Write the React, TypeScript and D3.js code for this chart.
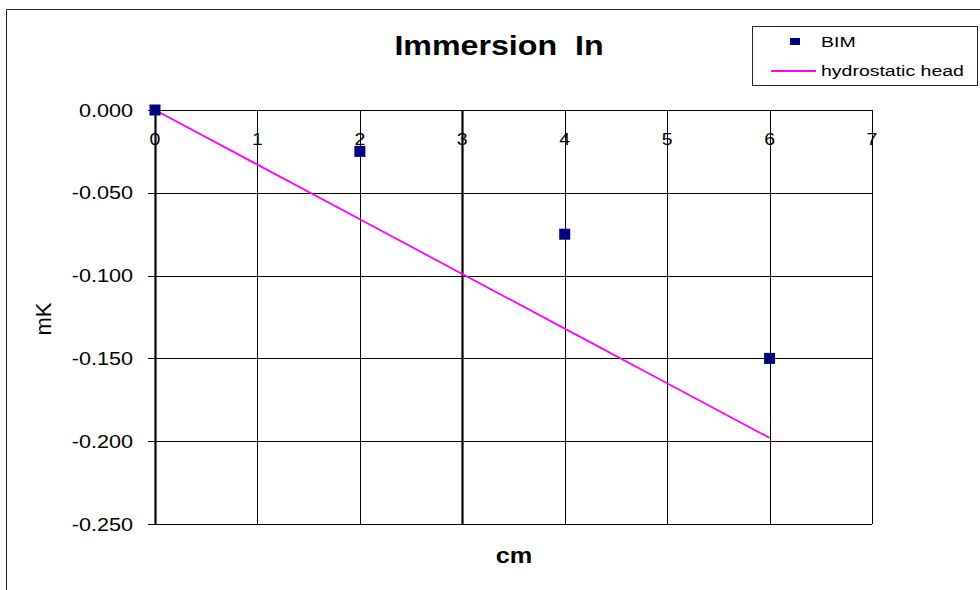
import React, { useEffect, useRef } from "react";
import * as d3 from "d3";

// chart data
const bimX = [0, 2, 4, 6];
const bimY = [0.0, -0.025, -0.075, -0.15];
const headX = [0, 1, 2, 3, 4, 5, 6];
const headY = [0, -0.033, -0.066, -0.099, -0.132, -0.165, -0.198];
const xTicks = [0, 1, 2, 3, 4, 5, 6, 7];
const yTicks = [0, -0.05, -0.1, -0.15, -0.2, -0.25];

const FONT = "Arial, 'Liberation Sans', sans-serif";

const App = () => {
  const ref = useRef<SVGSVGElement>(null);

  useEffect(() => {
    const svg = d3.select(ref.current);
    svg.selectAll("*").remove();

    const width = 980;
    const height = 590;
    const left = 155;
    const right = 872;
    const top = 110;
    const bottom = 524;

    const x = d3.scaleLinear().domain([0, 7]).range([left, right]);
    const y = d3.scaleLinear().domain([0, -0.25]).range([top, bottom]);

    // text in the source is a bit wider than plain Arial, so stretch it
    const stretch = (tx: number, ty: number, sx: number) =>
      `translate(${tx},${ty}) scale(${sx},1)`;

    svg.append("rect").attr("width", width).attr("height", height).attr("fill", "#fff");

    // outer chart frame (cropped on the right and bottom)
    svg
      .append("path")
      .attr("d", `M6.5,${height} V9.5 H${width}`)
      .attr("fill", "none")
      .attr("stroke", "#222")
      .attr("stroke-width", 1);

    // title
    svg
      .append("text")
      .attr("transform", stretch(499, 55, 1.15))
      .attr("text-anchor", "middle")
      .style("font-family", FONT)
      .style("font-size", "28px")
      .style("font-weight", "bold")
      .style("white-space", "pre")
      .text("Immersion  In");

    const grid = svg.append("g");

    // horizontal gridlines
    grid
      .selectAll("line.h")
      .data(yTicks)
      .enter()
      .append("line")
      .attr("class", "h")
      .attr("x1", left - 7)
      .attr("x2", right)
      .attr("y1", (d) => Math.round(y(d)) + 0.5)
      .attr("y2", (d) => Math.round(y(d)) + 0.5)
      .attr("stroke", "#000")
      .attr("stroke-width", 1.2);

    // vertical gridlines
    grid
      .selectAll("line.v")
      .data(xTicks)
      .enter()
      .append("line")
      .attr("class", "v")
      .attr("x1", (d) => Math.round(x(d)) + 0.5)
      .attr("x2", (d) => Math.round(x(d)) + 0.5)
      .attr("y1", top)
      .attr("y2", bottom)
      .attr("stroke", "#000")
      .attr("stroke-width", (d) => (d === 0 || d === 3 ? 2.2 : 1));

    // y tick labels
    svg
      .selectAll("text.yt")
      .data(yTicks)
      .enter()
      .append("text")
      .attr("class", "yt")
      .attr("transform", (d) => stretch(133, y(d) + 6.5, 1.2))
      .attr("text-anchor", "end")
      .style("font-family", FONT)
      .style("font-size", "18px")
      .text((d) => d3.format(".3f")(d).replace("−", "-"));

    // x tick labels sit under the zero line
    svg
      .selectAll("text.xt")
      .data(xTicks)
      .enter()
      .append("text")
      .attr("class", "xt")
      .attr("transform", (d) => stretch(x(d), 145, 1.15))
      .attr("text-anchor", "middle")
      .style("font-family", FONT)
      .style("font-size", "17px")
      .text((d) => d);

    // axis titles
    svg
      .append("text")
      .attr("transform", "translate(51,319) rotate(-90)")
      .attr("text-anchor", "middle")
      .style("font-family", FONT)
      .style("font-size", "22px")
      .text("mK");

    svg
      .append("text")
      .attr("transform", stretch(514, 563, 1.15))
      .attr("text-anchor", "middle")
      .style("font-family", FONT)
      .style("font-size", "22px")
      .style("font-weight", "bold")
      .text("cm");

    // hydrostatic head line
    const line = d3
      .line<number>()
      .x((d, i) => x(headX[i]))
      .y((d) => y(d));

    svg
      .append("path")
      .datum(headY)
      .attr("d", line)
      .attr("fill", "none")
      .attr("stroke", "#ff00ff")
      .attr("stroke-width", 1.8);

    // BIM markers
    svg
      .selectAll("rect.bim")
      .data(bimY)
      .enter()
      .append("rect")
      .attr("class", "bim")
      .attr("x", (d, i) => x(bimX[i]) - 5.5)
      .attr("y", (d) => y(d) - 5.5)
      .attr("width", 11)
      .attr("height", 11)
      .attr("fill", "#000080");

    // legend
    const legend = svg.append("g");
    legend
      .append("rect")
      .attr("x", 752.5)
      .attr("y", 26.5)
      .attr("width", 225)
      .attr("height", 59)
      .attr("fill", "#fff")
      .attr("stroke", "#222")
      .attr("stroke-width", 1);

    legend
      .append("rect")
      .attr("x", 790)
      .attr("y", 38)
      .attr("width", 10)
      .attr("height", 7)
      .attr("fill", "#000080");

    legend
      .append("text")
      .attr("transform", stretch(821, 47, 1.3))
      .style("font-family", FONT)
      .style("font-size", "15px")
      .text("BIM");

    legend
      .append("line")
      .attr("x1", 771)
      .attr("x2", 816)
      .attr("y1", 71)
      .attr("y2", 71)
      .attr("stroke", "#ff00ff")
      .attr("stroke-width", 1.8);

    legend
      .append("text")
      .attr("transform", stretch(821, 76, 1.3))
      .style("font-family", FONT)
      .style("font-size", "15px")
      .text("hydrostatic head");
  }, []);

  return (
    <svg
      ref={ref}
      width={980}
      height={590}
      style={{ position: "absolute", left: 0, top: 0 }}
    />
  );
};

export default App;
